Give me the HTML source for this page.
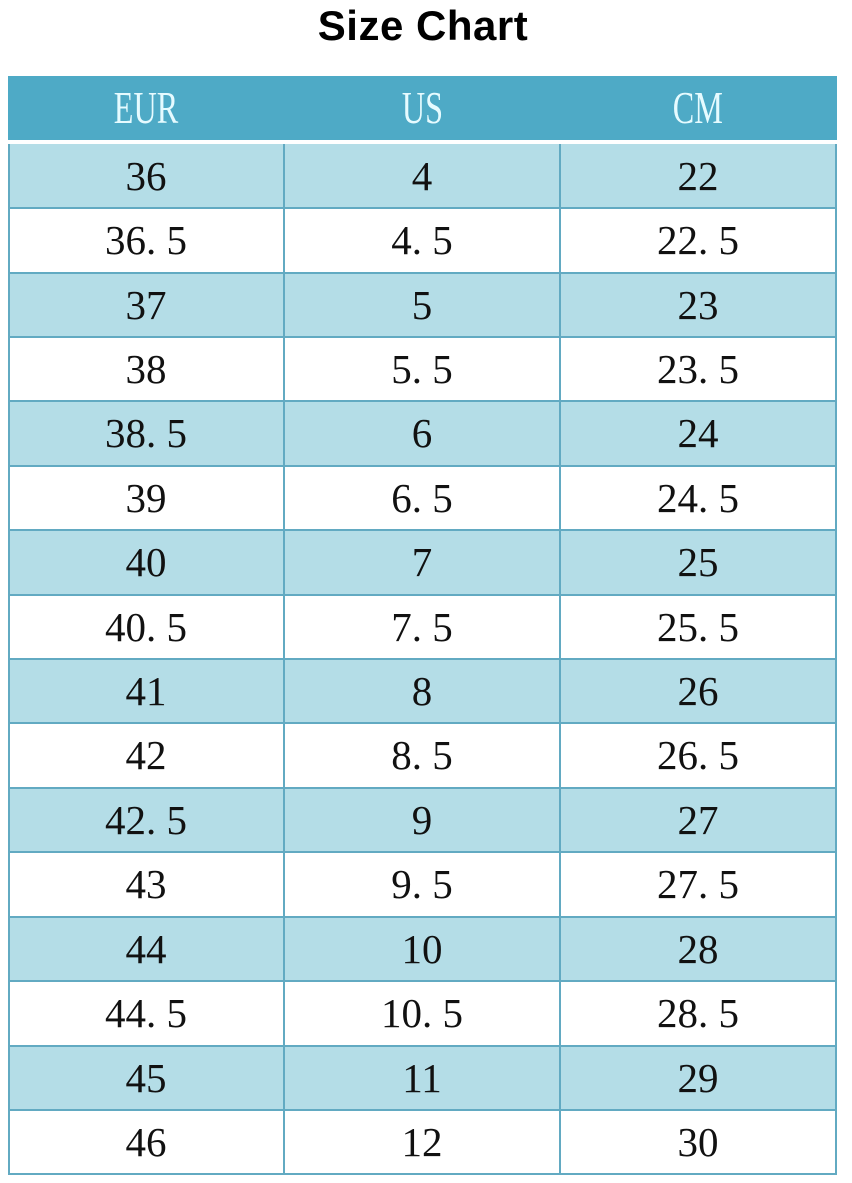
<!DOCTYPE html>
<html>
<head>
<meta charset="utf-8">
<style>
html,body{margin:0;padding:0;background:#fff;}
body{width:852px;height:1183px;position:relative;overflow:hidden;}
.title{position:absolute;left:0;width:846px;top:0;height:52px;text-align:center;font-family:"Liberation Sans",sans-serif;font-weight:bold;font-size:42px;line-height:52px;color:#000;letter-spacing:0.5px;}
.hdr{position:absolute;left:8px;top:76px;width:829px;height:64px;background:#4eaac6;}
.hcell{position:absolute;top:0;height:64px;width:276px;text-align:center;line-height:64px;font-family:"Liberation Serif",serif;font-size:46px;color:#e6fbff;}
.hcell span{display:inline-block;transform:scaleX(0.7);}
.row{position:absolute;left:8px;width:829px;}
.light{background:#b4dde7;}
.white{background:#fff;}
.cell{position:absolute;top:0;width:276px;text-align:center;font-family:"Liberation Serif",serif;font-size:41px;color:#111;}
.hl{position:absolute;left:8px;width:829px;height:2px;background:#62aac2;}
.vl{position:absolute;top:144px;width:2px;height:1031px;background:#62aac2;}
</style>
</head>
<body>
<div class="title">Size Chart</div>
<div class="hdr">
  <div class="hcell" style="left:0"><span>EUR</span></div>
  <div class="hcell" style="left:276px"><span>US</span></div>
  <div class="hcell" style="left:552px"><span>CM</span></div>
</div>

<div class="row light" style="top:144px;height:64px"><div class="cell" style="left:0;line-height:64px">36</div><div class="cell" style="left:276px;line-height:64px">4</div><div class="cell" style="left:552px;line-height:64px">22</div></div>
<div class="row white" style="top:208px;height:65px"><div class="cell" style="left:0;line-height:65px">36. 5</div><div class="cell" style="left:276px;line-height:65px">4. 5</div><div class="cell" style="left:552px;line-height:65px">22. 5</div></div>
<div class="row light" style="top:273px;height:64px"><div class="cell" style="left:0;line-height:64px">37</div><div class="cell" style="left:276px;line-height:64px">5</div><div class="cell" style="left:552px;line-height:64px">23</div></div>
<div class="row white" style="top:337px;height:64px"><div class="cell" style="left:0;line-height:64px">38</div><div class="cell" style="left:276px;line-height:64px">5. 5</div><div class="cell" style="left:552px;line-height:64px">23. 5</div></div>
<div class="row light" style="top:401px;height:65px"><div class="cell" style="left:0;line-height:65px">38. 5</div><div class="cell" style="left:276px;line-height:65px">6</div><div class="cell" style="left:552px;line-height:65px">24</div></div>
<div class="row white" style="top:466px;height:64px"><div class="cell" style="left:0;line-height:64px">39</div><div class="cell" style="left:276px;line-height:64px">6. 5</div><div class="cell" style="left:552px;line-height:64px">24. 5</div></div>
<div class="row light" style="top:530px;height:65px"><div class="cell" style="left:0;line-height:65px">40</div><div class="cell" style="left:276px;line-height:65px">7</div><div class="cell" style="left:552px;line-height:65px">25</div></div>
<div class="row white" style="top:595px;height:64px"><div class="cell" style="left:0;line-height:64px">40. 5</div><div class="cell" style="left:276px;line-height:64px">7. 5</div><div class="cell" style="left:552px;line-height:64px">25. 5</div></div>
<div class="row light" style="top:659px;height:64px"><div class="cell" style="left:0;line-height:64px">41</div><div class="cell" style="left:276px;line-height:64px">8</div><div class="cell" style="left:552px;line-height:64px">26</div></div>
<div class="row white" style="top:723px;height:65px"><div class="cell" style="left:0;line-height:65px">42</div><div class="cell" style="left:276px;line-height:65px">8. 5</div><div class="cell" style="left:552px;line-height:65px">26. 5</div></div>
<div class="row light" style="top:788px;height:64px"><div class="cell" style="left:0;line-height:64px">42. 5</div><div class="cell" style="left:276px;line-height:64px">9</div><div class="cell" style="left:552px;line-height:64px">27</div></div>
<div class="row white" style="top:852px;height:65px"><div class="cell" style="left:0;line-height:65px">43</div><div class="cell" style="left:276px;line-height:65px">9. 5</div><div class="cell" style="left:552px;line-height:65px">27. 5</div></div>
<div class="row light" style="top:917px;height:64px"><div class="cell" style="left:0;line-height:64px">44</div><div class="cell" style="left:276px;line-height:64px">10</div><div class="cell" style="left:552px;line-height:64px">28</div></div>
<div class="row white" style="top:981px;height:65px"><div class="cell" style="left:0;line-height:65px">44. 5</div><div class="cell" style="left:276px;line-height:65px">10. 5</div><div class="cell" style="left:552px;line-height:65px">28. 5</div></div>
<div class="row light" style="top:1046px;height:64px"><div class="cell" style="left:0;line-height:64px">45</div><div class="cell" style="left:276px;line-height:64px">11</div><div class="cell" style="left:552px;line-height:64px">29</div></div>
<div class="row white" style="top:1110px;height:64px"><div class="cell" style="left:0;line-height:64px">46</div><div class="cell" style="left:276px;line-height:64px">12</div><div class="cell" style="left:552px;line-height:64px">30</div></div>

<div class="hl" style="top:207px"></div>
<div class="hl" style="top:272px"></div>
<div class="hl" style="top:336px"></div>
<div class="hl" style="top:400px"></div>
<div class="hl" style="top:465px"></div>
<div class="hl" style="top:529px"></div>
<div class="hl" style="top:594px"></div>
<div class="hl" style="top:658px"></div>
<div class="hl" style="top:722px"></div>
<div class="hl" style="top:787px"></div>
<div class="hl" style="top:851px"></div>
<div class="hl" style="top:916px"></div>
<div class="hl" style="top:980px"></div>
<div class="hl" style="top:1045px"></div>
<div class="hl" style="top:1109px"></div>
<div class="hl" style="top:1173px"></div>

<div class="vl" style="left:8px"></div>
<div class="vl" style="left:283px"></div>
<div class="vl" style="left:559px"></div>
<div class="vl" style="left:835px"></div>
</body>
</html>
